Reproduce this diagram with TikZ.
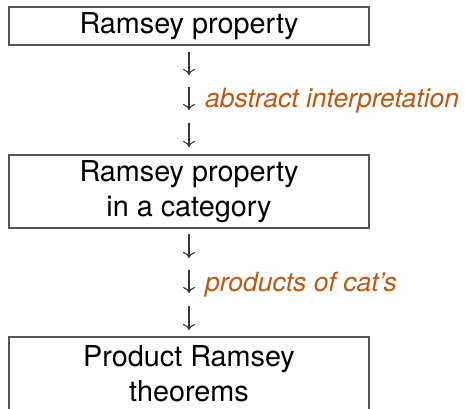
\documentclass[tikz,border=0pt]{standalone}
\usepackage{fontspec}
\setmainfont{TeX Gyre Heros}
\usetikzlibrary{arrows.meta}
\definecolor{labelorange}{RGB}{188,88,18}
\definecolor{boxgray}{RGB}{85,85,85}
\definecolor{arrowgray}{RGB}{55,55,55}
\begin{document}
\begin{tikzpicture}[x=1pt,y=1pt,
  box/.style={draw=boxgray,line width=1.3pt,minimum width=360pt,inner sep=0pt,
    align=center,font=\fontsize{28.8}{35}\selectfont},
  darrow/.style={draw=arrowgray,line width=1.1pt,
    -{To[length=6pt,width=12pt,line width=1.1pt]}},
  lab/.style={inner sep=0pt,text=labelorange,anchor=base west,
    font=\fontsize{26.5}{30}\selectfont\itshape}]
\useasboundingbox (0,0) rectangle (466,-408);
\node[box,minimum height=38pt] (b1) at (189,-26) {Ramsey property};
\node[box,minimum height=73pt] (b2) at (189,-191.5) {Ramsey property\\in a category};
\node[box,minimum height=73pt] (b3) at (189,-373.5) {Product Ramsey\\theorems};
% first group of arrows
\coordinate (s1) at (189,-52);  \coordinate (e1) at (189,-75);
\coordinate (s2) at (189,-87);  \coordinate (e2) at (189,-110);
\coordinate (s3) at (189,-123); \coordinate (e3) at (189,-147);
\draw[darrow] (s1) -- (e1);
\draw[darrow] (s2) -- (e2);
\draw[darrow] (s3) -- (e3);
\node[lab] (l1) at (205,-107) {abstract interpretation};
% second group of arrows
\coordinate (s4) at (189,-234); \coordinate (e4) at (189,-258);
\coordinate (s5) at (189,-270); \coordinate (e5) at (189,-293);
\coordinate (s6) at (189,-306); \coordinate (e6) at (189,-330);
\draw[darrow] (s4) -- (e4);
\draw[darrow] (s5) -- (e5);
\draw[darrow] (s6) -- (e6);
\node[lab] (l2) at (205,-291) {products of cat's};
\end{tikzpicture}
\end{document}
